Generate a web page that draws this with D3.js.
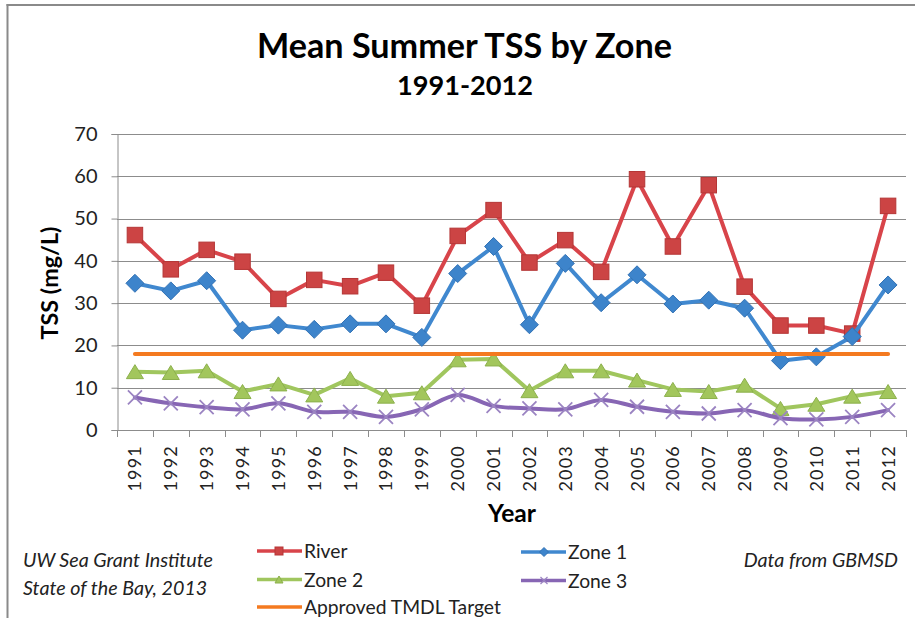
<!DOCTYPE html>
<html>
<head>
<meta charset="utf-8">
<script src="https://cdn.jsdelivr.net/npm/d3@7"></script>
<style>
  html, body { margin: 0; padding: 0; background: #fff; }
  svg { display: block; }
</style>
</head>
<body>
<svg id="chart" width="915" height="618"></svg>
<script>
// ---- data ----
const years = [1991,1992,1993,1994,1995,1996,1997,1998,1999,2000,2001,2002,2003,2004,2005,2006,2007,2008,2009,2010,2011,2012];
const river = [46.1,38.0,42.6,39.8,31.0,35.5,34.0,37.2,29.4,45.9,52.0,39.6,44.9,37.4,59.3,43.4,57.9,33.9,24.7,24.7,22.8,53.0];
const zone1 = [34.7,32.9,35.3,23.6,24.8,23.8,25.1,25.1,21.9,37.0,43.4,24.9,39.4,30.1,36.7,29.8,30.7,28.8,16.4,17.3,22.1,34.3];
const zone2 = [13.8,13.6,14.0,9.1,10.9,8.3,12.2,8.0,8.8,16.6,16.8,9.3,14.0,14.0,11.8,9.6,9.1,10.6,5.1,6.1,8.0,9.1];
const zone3 = [7.7,6.3,5.4,4.9,6.3,4.3,4.3,3.1,4.9,8.3,5.7,5.1,4.9,7.1,5.5,4.3,3.9,4.7,2.8,2.5,3.1,4.7];
const tmdl  = [18,18,18,18,18,18,18,18,18,18,18,18,18,18,18,18,18,18,18,18,18,18];
const yTicks = [0,10,20,30,40,50,60,70];
const seriesNames = ["River","Zone 1","Zone 2","Zone 3","Approved TMDL Target"];

// ---- setup ----
const svg = d3.select("#chart");
const FONT = "Lato, 'Open Sans', sans-serif";

const x = d3.scaleBand().domain(years).range([117, 906]);
const y = d3.scaleLinear().domain([0, 70]).range([430, 134]);
const cx = d => x(d) + x.bandwidth() / 2;

function fit(sel, w) {
  const l = sel.node().getComputedTextLength();
  const fs = parseFloat(sel.attr("font-size"));
  sel.attr("font-size", (fs * w / l).toFixed(2));
  return fs * w / l;
}

// frame
svg.append("rect").attr("x", 0).attr("y", 0).attr("width", 915).attr("height", 618).attr("fill", "#fff");
svg.append("line").attr("x1", 6.5).attr("x2", 915).attr("y1", 5).attr("y2", 5).attr("stroke", "#8a8a8a").attr("stroke-width", 2);
svg.append("line").attr("x1", 7.5).attr("x2", 7.5).attr("y1", 4).attr("y2", 618).attr("stroke", "#8a8a8a").attr("stroke-width", 2);

// titles
const t1 = svg.append("text").attr("x", 464.5).attr("y", 58).attr("text-anchor", "middle")
  .attr("font-family", FONT).attr("font-weight", "bold").attr("font-size", 30).attr("fill", "#000")
  .text("Mean Summer TSS by Zone");
fit(t1, 415);
const t2 = svg.append("text").attr("x", 465).attr("y", 95).attr("text-anchor", "middle")
  .attr("font-family", FONT).attr("font-weight", "bold").attr("font-size", 22).attr("fill", "#000")
  .text("1991-2012");
fit(t2, 136);

// gridlines
svg.append("g").selectAll("line").data(yTicks.filter(v => v > 0)).join("line")
  .attr("x1", 117).attr("x2", 906)
  .attr("y1", d => Math.round(y(d)) + 0.5).attr("y2", d => Math.round(y(d)) + 0.5)
  .attr("stroke", "#8c8c8c").attr("stroke-width", 1);

// y axis
const yAxis = svg.append("g").attr("transform", "translate(117.5,0)")
  .call(d3.axisLeft(y).tickValues(yTicks).tickSize(6).tickPadding(14).tickFormat(d3.format("d")));
yAxis.select(".domain").attr("stroke", "#8c8c8c");
yAxis.selectAll(".tick line").attr("stroke", "#8c8c8c");
yAxis.selectAll(".tick text").attr("font-family", FONT).attr("font-size", 20).attr("fill", "#222");

// x axis line and boundary ticks
svg.append("line").attr("x1", 117).attr("x2", 906.5).attr("y1", 430.5).attr("y2", 430.5).attr("stroke", "#8c8c8c");
const bounds = years.map(d => x(d)).concat([x.range()[1]]);
svg.append("g").selectAll("line").data(bounds).join("line")
  .attr("x1", d => Math.round(d) + 0.5).attr("x2", d => Math.round(d) + 0.5)
  .attr("y1", 430).attr("y2", 437).attr("stroke", "#8c8c8c");
svg.append("g").selectAll("text").data(years).join("text")
  .attr("transform", d => `translate(${cx(d) + 6.5},445) rotate(-90)`)
  .attr("text-anchor", "end")
  .attr("font-family", FONT).attr("font-size", 18).attr("letter-spacing", "1.2px").attr("fill", "#222")
  .text(d => d);

// axis titles
const yt = svg.append("text").attr("transform", "translate(58,283) rotate(-90)").attr("text-anchor", "middle")
  .attr("font-family", FONT).attr("font-weight", "bold").attr("font-size", 18).attr("fill", "#000")
  .text("TSS (mg/L)");
fit(yt, 113);
const xt = svg.append("text").attr("x", 512).attr("y", 522).attr("text-anchor", "middle")
  .attr("font-family", FONT).attr("font-weight", "bold").attr("font-size", 20).attr("fill", "#000")
  .text("Year");
fit(xt, 48);

// ---- marker helpers ----
function square(g, px, py, s, fill, stroke) {
  g.append("rect").attr("x", px - s / 2).attr("y", py - s / 2).attr("width", s).attr("height", s)
    .attr("fill", fill).attr("stroke", stroke).attr("stroke-width", 1);
}
function diamond(g, px, py, r, fill, stroke) {
  g.append("path").attr("d", `M${px},${py - r}L${px + r},${py}L${px},${py + r}L${px - r},${py}Z`)
    .attr("fill", fill).attr("stroke", stroke).attr("stroke-width", 1);
}
function triangle(g, px, py, w, h, fill, stroke) {
  g.append("path").attr("d", `M${px},${py - h / 2}L${px + w / 2},${py + h / 2}L${px - w / 2},${py + h / 2}Z`)
    .attr("fill", fill).attr("stroke", stroke).attr("stroke-width", 1);
}
function cross(g, px, py, r, stroke, sw) {
  g.append("path").attr("d", `M${px - r},${py - r}L${px + r},${py + r}M${px - r},${py + r}L${px + r},${py - r}`)
    .attr("fill", "none").attr("stroke", stroke).attr("stroke-width", sw);
}

const C = {
  river: { line: "#D8444A", fill: "#CC4444", stroke: "#B53636" },
  z1: { line: "#4088CF", fill: "#3D84CB", stroke: "#3272B5" },
  z2: { line: "#A0C65E", fill: "#A2C65C", stroke: "#8CB04C" },
  z3: { line: "#8766B4", stroke: "#9B84C2" },
  tmdl: "#F47A20"
};

function drawLine(vals, color, w, curve) {
  const line = d3.line().x((d, i) => cx(years[i])).y(d => y(d)).curve(curve || d3.curveLinear);
  svg.append("path").datum(vals).attr("d", line).attr("fill", "none")
    .attr("stroke", color).attr("stroke-width", w).attr("stroke-linejoin", "round").attr("stroke-linecap", "round");
}

// River
drawLine(river, C.river.line, 4);
const gR = svg.append("g");
river.forEach((v, i) => square(gR, cx(years[i]), y(v), 15.5, C.river.fill, C.river.stroke));
// Zone 1
drawLine(zone1, C.z1.line, 4);
const g1 = svg.append("g");
zone1.forEach((v, i) => diamond(g1, cx(years[i]), y(v), 9, C.z1.fill, C.z1.stroke));
// Zone 2
drawLine(zone2, C.z2.line, 4);
const g2 = svg.append("g");
zone2.forEach((v, i) => triangle(g2, cx(years[i]), y(v), 17, 14, C.z2.fill, C.z2.stroke));
// Zone 3
drawLine(zone3, C.z3.line, 4, d3.curveCatmullRom);
const g3 = svg.append("g");
zone3.forEach((v, i) => cross(g3, cx(years[i]), y(v), 7, C.z3.stroke, 1.8));
// TMDL
drawLine(tmdl, C.tmdl, 4);

// ---- legend ----
const lg = svg.append("g");
const legendItems = [
  { name: seriesNames[0], x: 257, y: 551, color: C.river.line, mk: g => square(g, 279, 551, 8, C.river.fill, C.river.stroke) },
  { name: seriesNames[1], x: 521, y: 552, color: C.z1.line, mk: g => diamond(g, 544, 552, 4.5, C.z1.fill, C.z1.stroke) },
  { name: seriesNames[2], x: 257, y: 579.5, color: C.z2.line, mk: g => triangle(g, 279, 579.5, 8, 7, C.z2.fill, C.z2.stroke) },
  { name: seriesNames[3], x: 521, y: 580.5, color: C.z3.line, mk: g => cross(g, 544, 580.5, 3.5, C.z3.stroke, 1.2) },
  { name: seriesNames[4], x: 257, y: 607, color: C.tmdl, mk: null }
];
const legTexts = [];
legendItems.forEach(it => {
  lg.append("line").attr("x1", it.x).attr("x2", it.x + 45).attr("y1", it.y).attr("y2", it.y)
    .attr("stroke", it.color).attr("stroke-width", 3.5);
  if (it.mk) it.mk(lg);
  const t = lg.append("text").attr("x", it.x + 47).attr("y", it.y + 7)
    .attr("font-family", FONT).attr("font-size", 19).attr("fill", "#222").text(it.name);
  legTexts.push(t);
});
const legFs = fit(legTexts[4], 197);
legTexts.forEach(t => t.attr("font-size", legFs.toFixed(2)));

// notes
const n1 = svg.append("text").attr("x", 23).attr("y", 566.5).attr("font-family", FONT).attr("font-style", "italic")
  .attr("font-size", 17).attr("fill", "#222").text("UW Sea Grant Institute");
const nFs = fit(n1, 190);
svg.append("text").attr("x", 23).attr("y", 594.5).attr("font-family", FONT).attr("font-style", "italic")
  .attr("font-size", nFs.toFixed(2)).attr("fill", "#222").text("State of the Bay, 2013");
svg.append("text").attr("x", 898).attr("y", 566.5).attr("text-anchor", "end").attr("font-family", FONT).attr("font-style", "italic")
  .attr("font-size", nFs.toFixed(2)).attr("fill", "#222").text("Data from GBMSD");
</script>
</body>
</html>
